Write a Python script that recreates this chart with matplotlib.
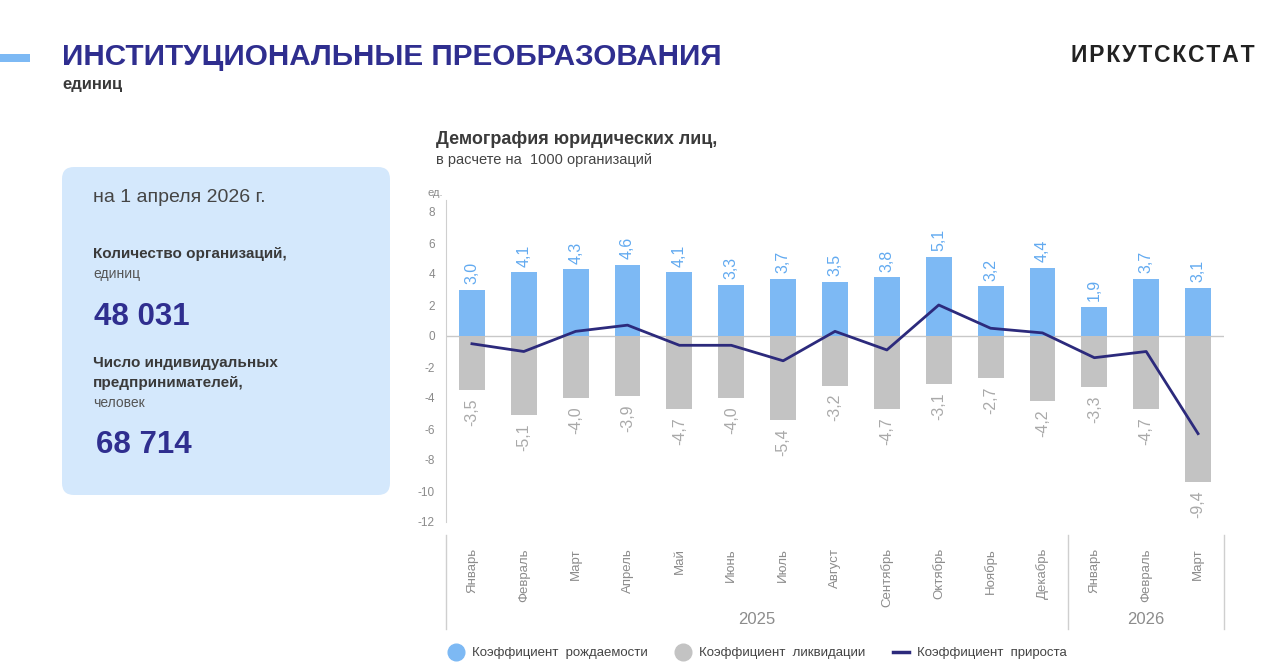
import matplotlib
matplotlib.use("Agg")
import matplotlib.pyplot as plt
from matplotlib.patches import FancyBboxPatch, Rectangle
from matplotlib.lines import Line2D
import numpy as np

plt.rcParams['font.family'] = ['Liberation Sans', 'DejaVu Sans']

# data
months = ["Январь", "Февраль", "Март", "Апрель", "Май", "Июнь", "Июль", "Август",
          "Сентябрь", "Октябрь", "Ноябрь", "Декабрь", "Январь", "Февраль", "Март"]
years = ["2025", "2026"]
year_sizes = [12, 3]
birth = [3.0, 4.1, 4.3, 4.6, 4.1, 3.3, 3.7, 3.5, 3.8, 5.1, 3.2, 4.4, 1.9, 3.7, 3.1]
liquid = [-3.5, -5.1, -4.0, -3.9, -4.7, -4.0, -5.4, -3.2, -4.7, -3.1, -2.7, -4.2, -3.3, -4.7, -9.4]
growth = [-0.5, -1.0, 0.3, 0.7, -0.6, -0.6, -1.6, 0.3, -0.9, 2.0, 0.5, 0.2, -1.4, -1.0, -6.3]
yticks = [8, 6, 4, 2, 0, -2, -4, -6, -8, -10, -12]

BLUE = "#7db9f4"
BLUE_TXT = "#62aaf0"
GRAY = "#c3c3c3"
GRAY_TXT = "#a9a9a9"
NAVY = "#2c2a7c"
TITLE = "#2f2e8f"
DARK = "#3a3a3a"

W, H = 1280, 672
fig = plt.figure(figsize=(12.8, 6.72), dpi=100)


def px(x, y):
    return x / W, 1 - y / H


# header
fig.patches.append(Rectangle((0, 1 - 62 / H), 30 / W, 8 / H, transform=fig.transFigure,
                             color=BLUE, lw=0))
fig.text(*px(62, 57), "ИНСТИТУЦИОНАЛЬНЫЕ ПРЕОБРАЗОВАНИЯ", fontsize=21.3, fontweight="bold",
         color=TITLE, va="center", ha="left")
fig.text(*px(62, 85), "единиц", fontsize=12, fontweight="bold", color=DARK, va="center")
fig.text(*px(1255, 55), "\u200a".join("ИРКУТСКСТАТ"), fontsize=16.5, fontweight="bold",
         color="#222222", va="center", ha="right")

# left info box
box = FancyBboxPatch((0.74, 1.89), 3.04, 3.04, boxstyle="round,pad=0.12,rounding_size=0.12",
                     transform=fig.dpi_scale_trans, facecolor="#d4e8fc", edgecolor="none")
fig.patches.append(box)
fig.text(*px(93, 197), "на 1 апреля 2026 г.", fontsize=14, color="#454545", va="center")
fig.text(*px(93, 254), "Количество организаций,", fontsize=11, fontweight="bold",
         color=DARK, va="center")
fig.text(*px(93, 274), "единиц", fontsize=10, color="#555555", va="center")
fig.text(*px(94, 317), "48 031", fontsize=22.5, fontweight="bold", color=TITLE, va="center")
fig.text(*px(93, 363), "Число индивидуальных", fontsize=11, fontweight="bold",
         color=DARK, va="center")
fig.text(*px(93, 383), "предпринимателей,", fontsize=11, fontweight="bold",
         color=DARK, va="center")
fig.text(*px(93, 403), "человек", fontsize=10, color="#555555", va="center")
fig.text(*px(96, 445), "68 714", fontsize=22.5, fontweight="bold", color=TITLE, va="center")

# chart titles
fig.text(*px(436, 140), "Демография юридических лиц,", fontsize=13, fontweight="bold",
         color=DARK, va="center")
fig.text(*px(436, 160), "в расчете на  1000 организаций", fontsize=10.5, color="#444444",
         va="center")
fig.text(*px(427, 193), "ед.", fontsize=8, color="#8a8a8a", va="center")

# main axes: 15.5 px per unit, zero at y=336
ax = fig.add_axes([446 / W, 1 - 522 / H, (1224 - 446) / W, 322 / H])
x = np.arange(len(months))
ax.bar(x, birth, width=0.5, color=BLUE, zorder=2)
ax.bar(x, liquid, width=0.5, color=GRAY, zorder=2)
ax.plot(x, growth, color=NAVY, lw=2, zorder=3)
ax.axhline(0, color="#c8c8c8", lw=1, zorder=1)

for xi, v in zip(x, birth):
    ax.annotate(f"{v:.1f}".replace(".", ","), (xi, v), xytext=(0, 4), textcoords="offset points",
                rotation=90, ha="center", va="bottom", fontsize=11.5, color=BLUE_TXT)
for xi, v in zip(x, liquid):
    ax.annotate(f"{v:.1f}".replace(".", ","), (xi, v), xytext=(0, -6), textcoords="offset points",
                rotation=90, ha="center", va="top", fontsize=11.5, color=GRAY_TXT)

ax.set_xlim(-0.5, len(months) - 0.5)
ax.set_ylim(-12, -12 + 322 / 15.5)
ax.set_yticks(yticks)
ax.set_yticklabels([str(t) for t in yticks], fontsize=8.5, color="#8a8a8a")
ax.tick_params(axis="y", length=0, pad=8)
ax.set_xticks([])
for s in ["top", "right", "bottom"]:
    ax.spines[s].set_visible(False)
ax.spines["left"].set_color("#cfcfcf")

# category axis below
trans = ax.get_xaxis_transform()
for xi, m in zip(x, months):
    ax.text(xi, -26 / 322, m, transform=trans, rotation=90, ha="center", va="top",
            fontsize=9.5, color="#8c8c8c")
start = 0
bounds = [-0.5]
for yname, n in zip(years, year_sizes):
    ax.text(start + (n - 1) / 2, -98 / 322, yname, transform=trans, ha="center", va="center",
            fontsize=12, color="#8c8c8c")
    start += n
    bounds.append(start - 0.5)
for b in bounds:
    ax.plot([b, b], [-13 / 322, -107 / 322], transform=trans, color="#cfcfcf", lw=1,
            clip_on=False)

# legend
handles = [
    Line2D([], [], marker="o", ls="none", markersize=12, color=BLUE, label="Коэффициент  рождаемости"),
    Line2D([], [], marker="o", ls="none", markersize=12, color=GRAY, label="Коэффициент  ликвидации"),
    Line2D([], [], color=NAVY, lw=2.5, label="Коэффициент  прироста"),
]
leg = fig.legend(handles=handles, loc="center left", bbox_to_anchor=px(436, 653), ncol=3,
                 frameon=False, fontsize=9.5, handlelength=1.2, handletextpad=0.6,
                 columnspacing=2.1)
for t in leg.get_texts():
    t.set_color("#444444")

fig.savefig("out.png", dpi=100)
